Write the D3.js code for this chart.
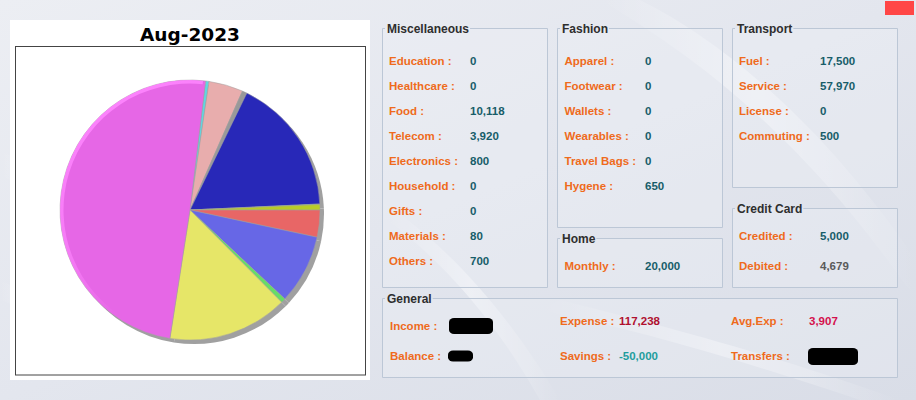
<!DOCTYPE html>
<html><head><meta charset="utf-8">
<script src="https://cdn.jsdelivr.net/npm/d3@7"></script>
<style>
html,body{margin:0;padding:0;background:#e2e5ed;}
svg{display:block;}
</style></head>
<body>
<svg id="c" width="916" height="400"></svg>
<script>
// ---------- DATA ----------
const chartTitle = "Aug-2023";
const pieCategories = ["Commuting","Credited","Others","Monthly","Materials","Electronics","Telecom","Food","Hygene","Fuel","Service"];
const pieValues     = [500, 5000, 700, 20000, 80, 800, 3920, 10118, 650, 17500, 57970];
const pieColors     = ["#5fd6e0","#e8adad","#999999","#2828b8","#58d858","#b8cc28","#e86666","#6767e6","#66dd66","#e6e668","#e667e6"];

const miscLabels = ["Education","Healthcare","Food","Telecom","Electronics","Household","Gifts","Materials","Others"];
const miscValues = [0, 0, 10118, 3920, 800, 0, 0, 80, 700];
const fashionLabels = ["Apparel","Footwear","Wallets","Wearables","Travel Bags","Hygene"];
const fashionValues = [0, 0, 0, 0, 0, 650];
const homeLabels = ["Monthly"];
const homeValues = [20000];
const transportLabels = ["Fuel","Service","License","Commuting"];
const transportValues = [17500, 57970, 0, 500];
const creditLabels = ["Credited","Debited"];
const creditValues = [5000, 4679];
const generalLabels = ["Income","Balance","Expense","Savings","Avg.Exp","Transfers"];
const generalValues = [null, null, 117238, -50000, 3907, null];

// ---------- DRAW ----------
const svg = d3.select("#c");
const W = 916, H = 400;
const defs = svg.append("defs");

// background
const bg = defs.append("linearGradient").attr("id","bg").attr("x1","0").attr("y1","0").attr("x2","1").attr("y2","1");
bg.append("stop").attr("offset","0").attr("stop-color","#eceef3");
bg.append("stop").attr("offset","0.5").attr("stop-color","#e3e6ee");
bg.append("stop").attr("offset","1").attr("stop-color","#d9dde7");
svg.append("rect").attr("width",W).attr("height",H).attr("fill","url(#bg)");

const sw = defs.append("linearGradient").attr("id","sw").attr("x1","0").attr("y1","0").attr("x2","1").attr("y2","0");
sw.append("stop").attr("offset","0").attr("stop-color","#fff").attr("stop-opacity","0");
sw.append("stop").attr("offset","0.5").attr("stop-color","#fff").attr("stop-opacity","0.55");
sw.append("stop").attr("offset","1").attr("stop-color","#fff").attr("stop-opacity","0");
// decorative light sweeps
const sweeps = [
  "M640,0 C720,40 820,120 916,260 L916,300 C820,160 720,70 600,0 Z",
  "M0,150 C60,180 120,230 160,260 L150,270 C110,240 50,200 0,175 Z",
  "M0,280 C40,300 80,330 110,360 L100,370 C70,340 30,310 0,300 Z",
  "M560,300 C640,320 760,350 900,400 L860,400 C740,360 640,330 540,310 Z",
  "M380,200 C440,240 500,300 560,400 L540,400 C490,310 430,250 380,215 Z"
];
svg.append("g").selectAll("path").data(sweeps).join("path")
  .attr("d",d=>d).attr("fill","url(#sw)").attr("opacity",0.8);

// red box top-right
svg.append("rect").attr("x",885).attr("y",1).attr("width",29).attr("height",14).attr("fill","#ff4646");

// chart panel
svg.append("rect").attr("x",10).attr("y",20).attr("width",360).attr("height",360).attr("fill","#fff");
svg.append("rect").attr("x",15.5).attr("y",46.5).attr("width",350).attr("height",328.5)
  .attr("fill","#fff").attr("stroke","#444").attr("stroke-width",1);
svg.append("text").attr("x",190).attr("y",41).attr("text-anchor","middle")
  .attr("font-family","DejaVu Sans").attr("font-weight","bold").attr("font-size","18.5px")
  .attr("fill","#000").text(chartTitle);

// pie
const cx = 190, cy = 210, R = 130;
const start = 6.9 * Math.PI/180;
const pie = d3.pie().sort(null).value(d=>d).startAngle(start).endAngle(start + 2*Math.PI);
const arcs = pie(pieValues);
const arc = d3.arc().innerRadius(0).outerRadius(R);
const gShadow = svg.append("g").attr("transform",`translate(${cx+4},${cy+4})`);
gShadow.selectAll("path").data(arcs).join("path").attr("d",arc).attr("fill","#a0a0a0");
const gPie = svg.append("g").attr("transform",`translate(${cx},${cy})`);
gPie.selectAll("path").data(arcs).join("path").attr("d",arc)
  .attr("fill",(d,i)=>pieColors[i]).attr("stroke","#a0a0a0").attr("stroke-width",0.5);
// rim highlight on largest slice
const big = arcs[arcs.length-1];
const hg = defs.append("linearGradient").attr("id","hl").attr("x1","0").attr("y1","0").attr("x2","0.3").attr("y2","1");
hg.append("stop").attr("offset","0").attr("stop-color","#ff86ff").attr("stop-opacity","1");
hg.append("stop").attr("offset","0.7").attr("stop-color","#ff86ff").attr("stop-opacity","0.6");
hg.append("stop").attr("offset","1").attr("stop-color","#ff86ff").attr("stop-opacity","0");
gPie.append("path").attr("d", d3.arc().innerRadius(R-3.5).outerRadius(R)({startAngle: big.startAngle+0.35, endAngle: big.endAngle-0.02}))
  .attr("fill","url(#hl)");

// panels
const LABEL = "#ef6b1c", VALUE = "#175d69";
const fmt = d3.format(",");
function box(x, y, w, h, title){
  const g = svg.append("g");
  g.append("rect").attr("x",x+0.5).attr("y",y+0.5).attr("width",w).attr("height",h)
    .attr("fill","#eef1f6").attr("fill-opacity",0.35).attr("stroke","none");
  const t = g.append("text").attr("x",x+5).attr("y",y+4.5)
    .attr("font-family","Liberation Sans, Arial").attr("font-weight","bold").attr("font-size","12px")
    .attr("fill","#2e2e2e").text(title);
  const tw = t.node().getComputedTextLength();
  const c = "#bcc7d6";
  const p = `M${x+3},${y+0.5} L${x+0.5},${y+0.5} L${x+0.5},${y+h+0.5} L${x+w+0.5},${y+h+0.5} L${x+w+0.5},${y+0.5} L${x+6+tw},${y+0.5}`;
  g.append("path").attr("d",p).attr("fill","none").attr("stroke",c).attr("stroke-width",1);
  return g;
}
function rows(labels, values, lx, vx, y0, dy, colors){
  const g = svg.append("g");
  labels.forEach((l,i)=>{
    const y = y0 + i*dy + 4;
    g.append("text").attr("x",lx).attr("y",y)
      .attr("font-family","Liberation Sans, Arial").attr("font-weight","bold").attr("font-size","11.5px")
      .attr("fill",LABEL).text(l + " :");
    if(values[i] !== null){
      g.append("text").attr("x",vx).attr("y",y)
        .attr("font-family","Liberation Sans, Arial").attr("font-weight","bold").attr("font-size","11.5px")
        .attr("fill", colors ? colors[i] : VALUE).text(fmt(values[i]).replace("−","-"));
    }
  });
}
box(382, 28, 165, 259, "Miscellaneous");
rows(miscLabels, miscValues, 389, 470, 60.7, 25);
box(557, 28, 165, 199, "Fashion");
rows(fashionLabels, fashionValues, 564.5, 645, 60.7, 25);
box(557, 238, 165, 49, "Home");
rows(homeLabels, homeValues, 564.5, 645, 265.7, 25);
box(732, 28, 165, 159, "Transport");
rows(transportLabels, transportValues, 739, 820, 60.7, 25);
box(732, 208, 165, 79, "Credit Card");
rows(creditLabels, creditValues, 739, 820, 235.7, 30, [VALUE, "#5a5a5a"]);
box(382, 298, 515, 79, "General");
rows(generalLabels.slice(0,2), generalValues.slice(0,2), 390, 450, 326, 30);
rows(generalLabels.slice(2,4), generalValues.slice(2,4), 560, 619, 320.7, 35.3, ["#b0102e", "#1f9d9d"]);
rows(generalLabels.slice(4,6), generalValues.slice(4,6), 731, 809, 320.7, 35.3, ["#d4104c", null]);

// redaction blobs (hidden values)
const blobs = [[449,318,44,16],[448,350.5,25,11],[808,348,50,17]];
svg.append("g").selectAll("rect").data(blobs).join("rect")
  .attr("x",d=>d[0]).attr("y",d=>d[1]).attr("width",d=>d[2]).attr("height",d=>d[3])
  .attr("rx",5).attr("ry",4).attr("fill","#000");
</script>
</body></html>
